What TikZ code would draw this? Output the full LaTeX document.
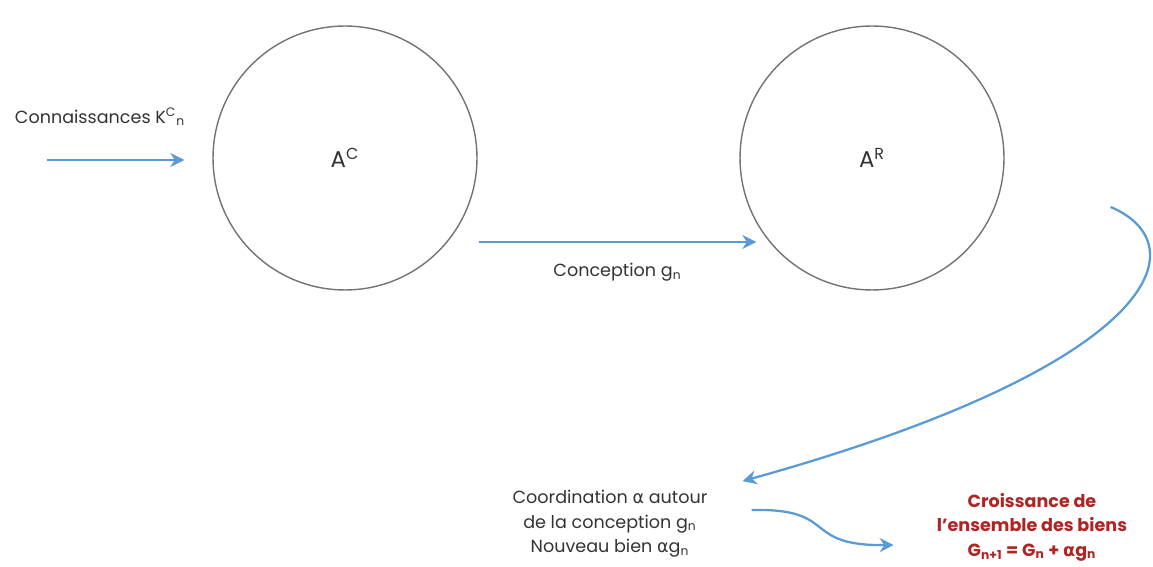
\documentclass[tikz,border=0pt]{standalone}
\usepackage{fontspec}
\setmainfont{Poppins}
\newfontfamily\grkfont{DejaVu Sans}
\usetikzlibrary{arrows.meta}
\definecolor{flowblue}{RGB}{91,155,213}
\definecolor{growred}{RGB}{176,36,36}
\newcommand{\alf}{{\grkfont α}}
\newcommand{\ix}[1]{\textsubscript{#1}}

\begin{document}
\begin{tikzpicture}[x=0.02cm,y=-0.02cm,font=\fontsize{10}{14}\selectfont,text=black!80,
  zone/.style={draw=black!55,line width=0.8pt,circle,minimum size=5.28cm,inner sep=0pt,font=\fontsize{13}{15}\selectfont},
  flow/.style={draw=flowblue,line width=1.3pt,-{Stealth[length=8pt,width=8pt]}}]
  \useasboundingbox (0,0) rectangle (1153,567);
  \node[zone] (AC) at (345,158) {A\textsuperscript{C}};
  \node[zone] (AR) at (872,158) {A\textsuperscript{R}};
  \node (kn) at (100,117) {Connaissances K\textsuperscript{C}\ix{n}};
  \coordinate (kin) at (47,160);
  \draw[flow] (kin) -- ([shift={(-28,2)}]AC.west);
  \draw[flow] ([shift={(1,84)}]AC.east) -- node[below=8pt,text=black!80] {Conception g\ix{n}} ([shift={(17,84)}]AR.west);
  \node[align=center] (co) at (610,524) {Coordination \alf{} autour\\de la conception g\ix{n}\\Nouveau bien \alf g\ix{n}};
  \node[align=center,font=\fontsize{10}{14}\selectfont\bfseries,text=growred] (gr) at (1032,527) {Croissance de\\l'ensemble des biens\\G\ix{n+1} = G\ix{n} + \alf g\ix{n}};
  % boucle de retour
  \draw[flow] ([shift={(106,49)}]AR.east) .. controls (1200,245) and (1160,365) .. ([shift={(29,-3)}]co.north east);
  \draw[flow] ([shift={(38,-14)}]co.east) .. controls (840,508) and (800,546) .. ([shift={(-37,18)}]gr.west);
\end{tikzpicture}
\end{document}
